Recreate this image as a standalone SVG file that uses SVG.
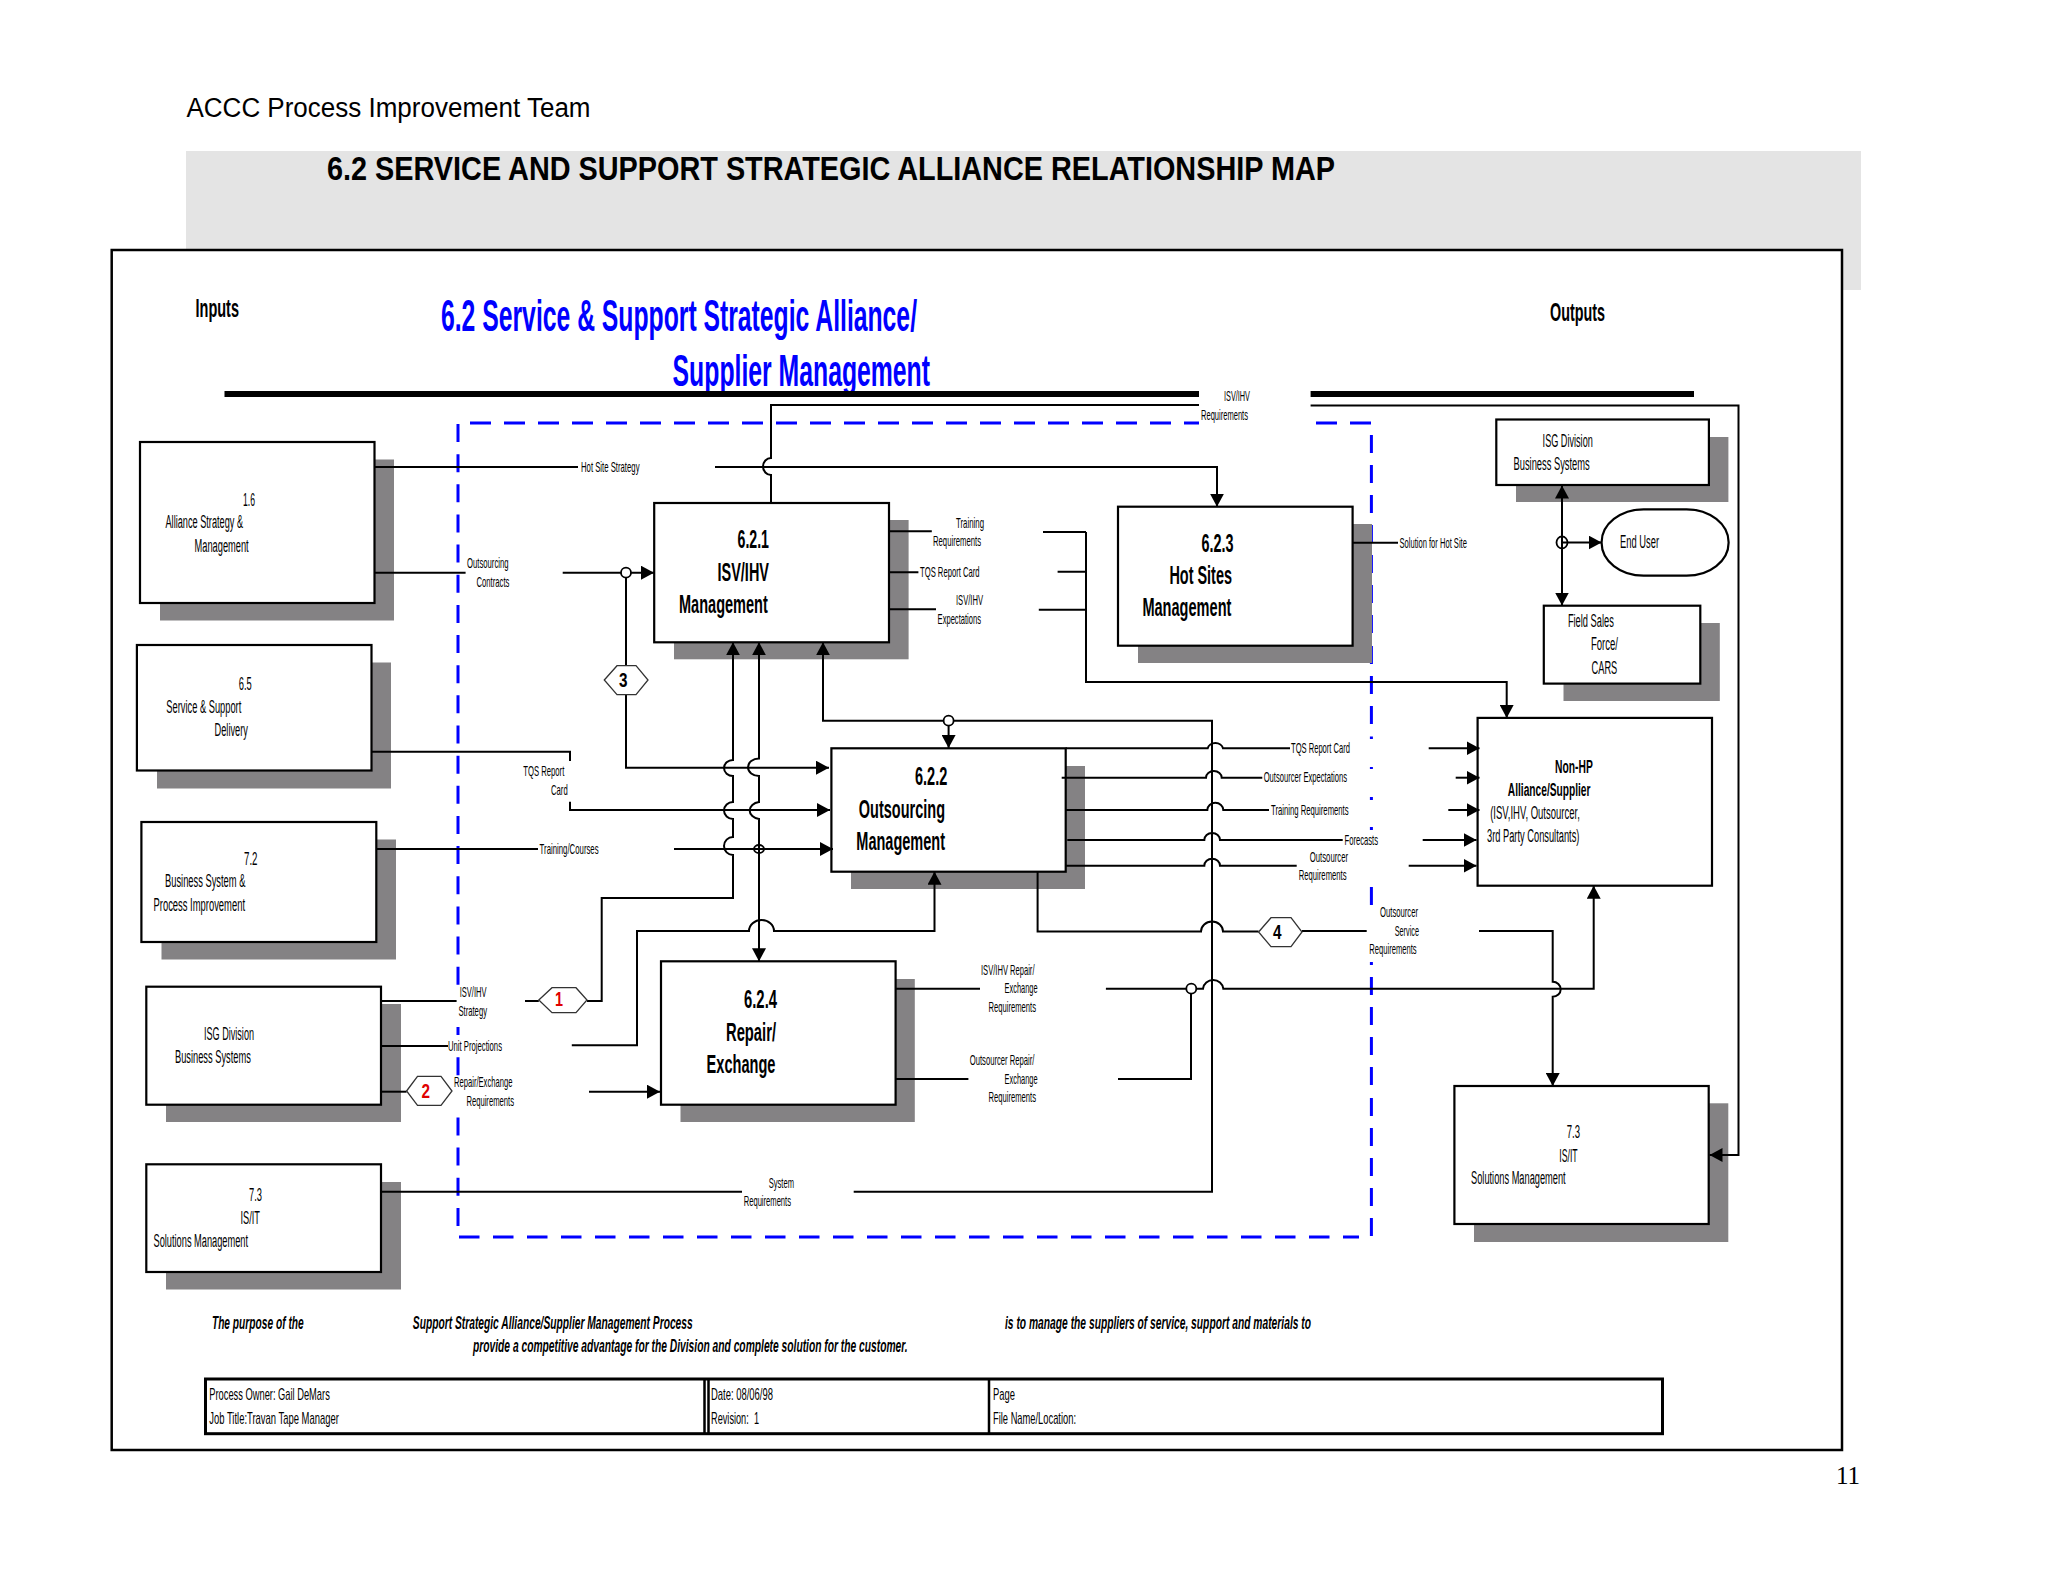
<svg xmlns="http://www.w3.org/2000/svg" width="2048" height="1582" viewBox="0 0 2048 1582">
<style>
text{font-family:"Liberation Sans",Arial,sans-serif;fill:#000}
.l{font-size:15px}
.n{font-size:18px}
.t{font-size:26px;font-weight:bold}
.b{font-weight:bold}
.f{font-size:17px}
.p{font-size:17.5px;font-weight:bold;font-style:italic}
.h{font-size:26px;font-weight:bold}
.blue{font-size:45px;font-weight:bold;fill:#0000ff}
.red{fill:#e00000}
.box{fill:#fff;stroke:#000;stroke-width:2.2}
.sh{fill:#848284}
.c{fill:none;stroke:#000;stroke-width:2}
.a{marker-end:url(#arrow)}
.j{fill:#fff;stroke:#000;stroke-width:1.8}
.jn{fill:none;stroke:#000;stroke-width:1.8}
.hex{fill:#fff;stroke:#333;stroke-width:1.3}
.d{fill:none;stroke:#0000ff;stroke-width:3}
.ko{fill:#fff}
</style>
<defs>
<marker id="arrow" viewBox="0 0 13 14" refX="13" refY="7" markerWidth="13" markerHeight="14" orient="auto" markerUnits="userSpaceOnUse"><path d="M0 0L13 7L0 14z" fill="#000"/></marker>
</defs>
<rect width="2048" height="1582" fill="#fff"/>
<text x="186.5" y="116.7" font-size="27" textLength="404" lengthAdjust="spacingAndGlyphs">ACCC Process Improvement Team</text>
<rect x="186" y="151" width="1675" height="139" fill="#e4e4e4"/>
<text x="327" y="180" font-size="33" font-weight="bold" textLength="1008" lengthAdjust="spacingAndGlyphs">6.2 SERVICE AND SUPPORT STRATEGIC ALLIANCE RELATIONSHIP MAP</text>
<rect x="111.7" y="250" width="1730.3" height="1200" fill="#fff" stroke="#000" stroke-width="2.5"/>
<text class="h" x="195.5" y="317" textLength="43.5" lengthAdjust="spacingAndGlyphs">Inputs</text>
<text class="h" x="1550" y="320.7" textLength="55" lengthAdjust="spacingAndGlyphs">Outputs</text>
<text class="blue" x="441" y="331" textLength="476" lengthAdjust="spacingAndGlyphs">6.2 Service &amp; Support Strategic Alliance/</text>
<text class="blue" x="672.6" y="386" textLength="257.4" lengthAdjust="spacingAndGlyphs">Supplier Management</text>
<rect x="224.5" y="391" width="974.5" height="6"/>
<rect x="1310.6" y="391" width="383.4" height="6"/>

<g id="boundary">
<path class="d" stroke-dasharray="18 12.15" d="M458 424V1236"/>
<rect class="ko" x="455" y="990" width="6" height="30"/>
<rect class="ko" x="455" y="1035" width="6" height="15"/>
<rect class="ko" x="455" y="1080" width="6" height="30"/>
<path class="d" stroke-dasharray="21 13" d="M470 423H1199"/>
<path class="d" stroke-dasharray="21 13" d="M1316 423H1371"/>
<path class="d" stroke-dasharray="20.5 13.5" d="M459 1237H1359"/>
<path class="d" d="M1371.4 435V453M1371.4 465V483M1371.4 495V513M1371.4 525V543M1371.4 555V573M1371.4 585V603M1371.4 615V633M1371.4 646V664M1371.4 676V694M1371.4 706V724M1371.4 736.5V739M1371.4 767V769M1371.4 797V800M1371.4 827V830M1371.4 887V905M1371.4 962V965M1371.4 977V995M1371.4 1007V1025M1371.4 1037V1055M1371.4 1067V1085M1371.4 1098V1116M1371.4 1128V1146M1371.4 1158V1176M1371.4 1188V1206M1371.4 1218V1236"/>
</g>

<g id="n16"><rect class="sh" x="160" y="459.5" width="234" height="161"/><rect class="box" x="140" y="442" width="234.5" height="161"/>
<text class="n" x="243" y="505.7" textLength="12" lengthAdjust="spacingAndGlyphs">1.6</text>
<text class="n" x="165.5" y="528" textLength="77.5" lengthAdjust="spacingAndGlyphs">Alliance Strategy &amp;</text>
<text class="n" x="194.5" y="551.7" textLength="54.2" lengthAdjust="spacingAndGlyphs">Management</text></g>
<g id="n65"><rect class="sh" x="157" y="662.5" width="234" height="126"/><rect class="box" x="136.9" y="645" width="234.6" height="125.5"/>
<text class="n" x="238.8" y="690" textLength="13" lengthAdjust="spacingAndGlyphs">6.5</text>
<text class="n" x="166.3" y="713" textLength="75" lengthAdjust="spacingAndGlyphs">Service &amp; Support</text>
<text class="n" x="214.5" y="736" textLength="33.4" lengthAdjust="spacingAndGlyphs">Delivery</text></g>
<g id="n72"><rect class="sh" x="161.5" y="839.5" width="234.5" height="120"/><rect class="box" x="141.4" y="822" width="234.9" height="120"/>
<text class="n" x="244" y="864.7" textLength="13.5" lengthAdjust="spacingAndGlyphs">7.2</text>
<text class="n" x="165" y="887.3" textLength="80.4" lengthAdjust="spacingAndGlyphs">Business System &amp;</text>
<text class="n" x="153.5" y="910.7" textLength="91.5" lengthAdjust="spacingAndGlyphs">Process Improvement</text></g>
<g id="isgIn"><rect class="sh" x="166" y="1004" width="235" height="118"/><rect class="box" x="146.3" y="986.7" width="234.7" height="118"/>
<text class="n" x="204" y="1040" textLength="50" lengthAdjust="spacingAndGlyphs">ISG Division</text>
<text class="n" x="175" y="1063" textLength="75.8" lengthAdjust="spacingAndGlyphs">Business Systems</text></g>
<g id="n73In"><rect class="sh" x="166" y="1182" width="235" height="107.5"/><rect class="box" x="146.3" y="1164.3" width="234.7" height="107.7"/>
<text class="n" x="249" y="1200.7" textLength="13" lengthAdjust="spacingAndGlyphs">7.3</text>
<text class="n" x="240.5" y="1224" textLength="19.5" lengthAdjust="spacingAndGlyphs">IS/IT</text>
<text class="n" x="153.5" y="1246.7" textLength="94.5" lengthAdjust="spacingAndGlyphs">Solutions Management</text></g>

<g id="n621"><rect class="sh" x="674" y="520" width="234.6" height="139.3"/><rect class="box" x="654.2" y="503" width="234.8" height="139.3"/>
<text class="t" x="737.5" y="548" textLength="31.5" lengthAdjust="spacingAndGlyphs">6.2.1</text>
<text class="t" x="717.5" y="580.7" textLength="51.5" lengthAdjust="spacingAndGlyphs">ISV/IHV</text>
<text class="t" x="679" y="612.7" textLength="88.8" lengthAdjust="spacingAndGlyphs">Management</text></g>
<g id="n623"><rect class="sh" x="1138" y="524" width="234" height="139"/><rect class="box" x="1118" y="506.7" width="234.6" height="139"/>
<text class="t" x="1201.6" y="551.7" textLength="32" lengthAdjust="spacingAndGlyphs">6.2.3</text>
<text class="t" x="1169.4" y="584" textLength="62.6" lengthAdjust="spacingAndGlyphs">Hot Sites</text>
<text class="t" x="1142.4" y="616" textLength="89" lengthAdjust="spacingAndGlyphs">Management</text></g>
<g id="n622"><rect class="sh" x="851" y="766" width="234" height="123"/><rect class="box" x="831.4" y="748.3" width="234.3" height="123.4"/>
<text class="t" x="915" y="785.3" textLength="32.3" lengthAdjust="spacingAndGlyphs">6.2.2</text>
<text class="t" x="858.8" y="817.7" textLength="86.2" lengthAdjust="spacingAndGlyphs">Outsourcing</text>
<text class="t" x="856.3" y="850" textLength="88.7" lengthAdjust="spacingAndGlyphs">Management</text></g>
<g id="n624"><rect class="sh" x="680.5" y="979" width="234.3" height="143"/><rect class="box" x="661" y="961.3" width="234.6" height="143.4"/>
<text class="t" x="744" y="1008.3" textLength="33" lengthAdjust="spacingAndGlyphs">6.2.4</text>
<text class="t" x="726" y="1041" textLength="50" lengthAdjust="spacingAndGlyphs">Repair/</text>
<text class="t" x="706.6" y="1073" textLength="68.8" lengthAdjust="spacingAndGlyphs">Exchange</text></g>

<g id="isgOut"><rect class="sh" x="1516" y="437" width="212.4" height="65"/><rect class="box" x="1496.3" y="419.5" width="212.6" height="65.5"/>
<text class="n" x="1542.6" y="446.8" textLength="50.2" lengthAdjust="spacingAndGlyphs">ISG Division</text>
<text class="n" x="1513.5" y="470" textLength="76.2" lengthAdjust="spacingAndGlyphs">Business Systems</text></g>
<g id="endUser"><rect class="box" x="1601.6" y="509.3" width="127" height="66.4" rx="42" ry="33"/>
<text class="n" x="1620" y="548" textLength="39" lengthAdjust="spacingAndGlyphs">End User</text></g>
<g id="fieldSales"><rect class="sh" x="1563.5" y="623" width="156.3" height="78"/><rect class="box" x="1543.8" y="605.7" width="156.5" height="77.9"/>
<text class="n" x="1567.9" y="627" textLength="45.9" lengthAdjust="spacingAndGlyphs">Field Sales</text>
<text class="n" x="1590.9" y="650" textLength="27.1" lengthAdjust="spacingAndGlyphs">Force/</text>
<text class="n" x="1591.6" y="673.6" textLength="25.7" lengthAdjust="spacingAndGlyphs">CARS</text></g>
<g id="nonHP"><rect class="box" x="1477.6" y="717.9" width="234.4" height="167.8"/>
<text class="n b" x="1555" y="772.5" textLength="37.8" lengthAdjust="spacingAndGlyphs">Non-HP</text>
<text class="n b" x="1507.8" y="795.7" textLength="82.7" lengthAdjust="spacingAndGlyphs">Alliance/Supplier</text>
<text class="n" x="1490.2" y="819" textLength="89.6" lengthAdjust="spacingAndGlyphs">(ISV,IHV, Outsourcer,</text>
<text class="n" x="1487" y="842" textLength="92.4" lengthAdjust="spacingAndGlyphs">3rd Party Consultants)</text></g>
<g id="n73Out"><rect class="sh" x="1474" y="1103.3" width="254.3" height="138.7"/><rect class="box" x="1454.4" y="1086" width="254.3" height="138"/>
<text class="n" x="1566.7" y="1138.3" textLength="13.3" lengthAdjust="spacingAndGlyphs">7.3</text>
<text class="n" x="1559.3" y="1161.7" textLength="18.4" lengthAdjust="spacingAndGlyphs">IS/IT</text>
<text class="n" x="1471" y="1184.3" textLength="94.7" lengthAdjust="spacingAndGlyphs">Solutions Management</text></g>

<g id="connectors">
<path class="c" d="M374.5 467H578"/>
<path class="c a" d="M715 467H1217V506.7"/>
<path class="c" d="M771 503V475A8 8.5 0 0 1 771 458V405H1199"/>
<path class="c a" d="M1310.6 405.5H1738.5V1155H1709.5"/>
<path class="c" d="M374.5 572.7H465.6"/>
<path class="c a" d="M562.7 572.7H654"/>
<path class="c a" d="M626 572.7V767.7H829"/>
<path class="c" d="M371.5 751.7H570V761"/>
<path class="c a" d="M570 801.7V810H830"/>
<path class="c" d="M376.3 849H538"/>
<path class="c a" d="M674 849H833"/>
<path class="c a" d="M381 1001H456.6M525 1001H538.8M587 1001H601.7V898H733V855A9 9 0 0 1 733 837V819A9 8.5 0 0 1 733 802V776A9 8 0 0 1 733 760V642.3"/>
<path class="c a" d="M759 849V819A11 8.6 0 0 1 759 802V776A11 8.8 0 0 1 759 758.4V642.3"/>
<path class="c a" d="M759 849V961.3"/>
<path class="c" d="M381 1046H448"/>
<path class="c a" d="M571.8 1045.3H637V931H749A12.5 11 0 0 1 774 931H934.5V871.7"/>
<path class="c" d="M381 1091.7H406.6"/>
<path class="c a" d="M589 1091.7H660"/>
<path class="c" d="M381 1191.7H742"/>
<path class="c a" d="M853.7 1191.7H1212V720.7H823V642.3"/>
<path class="c a" d="M948.6 720.7V748"/>
<path class="c" d="M889 531.3H931.8M889 572.3H918.4M889 609.3H936"/>
<path class="c" d="M1043 532H1086M1057.6 571.7H1086M1038.8 609.7H1086"/>
<path class="c a" d="M1086 532V682H1506.7V717.9"/>
<path class="c" d="M1352.6 542.7H1398"/>
<path class="c a" d="M1562 543V485.5"/>
<path class="c a" d="M1562 543V605.5"/>
<path class="c a" d="M1562 542.5H1601.6"/>
<path class="c" d="M1065.7 748.3H1207.7A7.8 6.6 0 0 1 1223 748.3H1290"/>
<path class="c" d="M1061.7 777.7H1206A7.8 6.6 0 0 1 1221.7 777.7H1262.3"/>
<path class="c" d="M1066 810H1207.3A8 7.2 0 0 1 1223.3 810H1269"/>
<path class="c" d="M1067.3 840H1204.3A7.8 7 0 0 1 1220 840H1342.7"/>
<path class="c" d="M1065 865.7H1204.3A7.8 7 0 0 1 1220 865.7H1296.7"/>
<path class="c a" d="M1428.7 748.3H1479.5"/>
<path class="c a" d="M1455.7 777.7H1479.5"/>
<path class="c a" d="M1448.3 810H1479.5"/>
<path class="c a" d="M1422.7 840H1476.5"/>
<path class="c a" d="M1408.7 865.7H1476.5"/>
<path class="c" d="M1037.6 871.7V931.5H1201A11 10 0 0 1 1223 931.5H1258.6M1302 931H1366.7"/>
<path class="c a" d="M1479 931H1552.7V981.7A8 7.5 0 0 1 1552.7 996.7V1086"/>
<path class="c" d="M895.6 988.7H980"/>
<path class="c a" d="M1105.9 988.7H1203A10.2 9.7 0 0 1 1223.3 988.7H1593.7V885.7"/>
<path class="c" d="M895.6 1079H968.4"/>
<path class="c" d="M1118 1079H1191V988.7"/>
<circle class="j" cx="626" cy="572.7" r="5"/>
<circle class="j" cx="948.6" cy="720.7" r="5"/>
<ellipse class="jn" cx="759" cy="849" rx="5" ry="4"/>
<circle class="j" cx="1191.3" cy="988.7" r="5"/>
<ellipse class="jn" cx="1562" cy="542.5" rx="5.5" ry="6"/>
</g>

<g id="hex3"><polygon class="hex" points="604.3,680 617,665.7 636,665.7 648,680 636,694.7 617,694.7"/><text x="619" y="687" font-size="21" font-weight="bold" textLength="8.5" lengthAdjust="spacingAndGlyphs">3</text></g>
<g id="hex1"><polygon class="hex" points="538.8,1000 552,987.7 576,987.7 587,1000 576,1012.7 552,1012.7"/><text class="red" x="555" y="1006" font-size="20" font-weight="bold" textLength="8" lengthAdjust="spacingAndGlyphs">1</text></g>
<g id="hex2"><polygon class="hex" points="406.6,1091 417.5,1076.3 441,1076.3 452,1091 441,1105.3 417.5,1105.3"/><text class="red" x="421.5" y="1097.5" font-size="21" font-weight="bold" textLength="8.5" lengthAdjust="spacingAndGlyphs">2</text></g>
<g id="hex4"><polygon class="hex" points="1258.6,932 1271,917.7 1291,917.7 1302,932 1291,946.7 1271,946.7"/><text x="1273" y="938.5" font-size="21" font-weight="bold" textLength="8.5" lengthAdjust="spacingAndGlyphs">4</text></g>

<g id="labels">
<text class="l" x="581" y="471.7" textLength="58.5" lengthAdjust="spacingAndGlyphs">Hot Site Strategy</text>
<text class="l" x="1224" y="400.7" textLength="26" lengthAdjust="spacingAndGlyphs">ISV/IHV</text>
<text class="l" x="1201" y="420" textLength="47" lengthAdjust="spacingAndGlyphs">Requirements</text>
<text class="l" x="467" y="568" textLength="41.5" lengthAdjust="spacingAndGlyphs">Outsourcing</text>
<text class="l" x="476.4" y="586.7" textLength="33" lengthAdjust="spacingAndGlyphs">Contracts</text>
<text class="l" x="956" y="527.7" textLength="28" lengthAdjust="spacingAndGlyphs">Training</text>
<text class="l" x="933" y="545.7" textLength="48" lengthAdjust="spacingAndGlyphs">Requirements</text>
<text class="l" x="920" y="576.7" textLength="59.6" lengthAdjust="spacingAndGlyphs">TQS Report Card</text>
<text class="l" x="956" y="605" textLength="27" lengthAdjust="spacingAndGlyphs">ISV/IHV</text>
<text class="l" x="937.6" y="624" textLength="43.4" lengthAdjust="spacingAndGlyphs">Expectations</text>
<text class="l" x="1399.5" y="547.5" textLength="67.4" lengthAdjust="spacingAndGlyphs">Solution for Hot Site</text>
<text class="l" x="1291" y="753" textLength="59" lengthAdjust="spacingAndGlyphs">TQS Report Card</text>
<text class="l" x="1263.7" y="782" textLength="83.3" lengthAdjust="spacingAndGlyphs">Outsourcer Expectations</text>
<text class="l" x="1271" y="815" textLength="77.6" lengthAdjust="spacingAndGlyphs">Training Requirements</text>
<text class="l" x="1344.5" y="844.7" textLength="33.5" lengthAdjust="spacingAndGlyphs">Forecasts</text>
<text class="l" x="1309.8" y="861.7" textLength="38.2" lengthAdjust="spacingAndGlyphs">Outsourcer</text>
<text class="l" x="1298.8" y="880" textLength="47.7" lengthAdjust="spacingAndGlyphs">Requirements</text>
<text class="l" x="1380" y="917" textLength="38" lengthAdjust="spacingAndGlyphs">Outsourcer</text>
<text class="l" x="1394.7" y="935.7" textLength="24.3" lengthAdjust="spacingAndGlyphs">Service</text>
<text class="l" x="1369.3" y="954" textLength="47.3" lengthAdjust="spacingAndGlyphs">Requirements</text>
<text class="l" x="981" y="975" textLength="53.5" lengthAdjust="spacingAndGlyphs">ISV/IHV Repair/</text>
<text class="l" x="1004.6" y="993" textLength="33" lengthAdjust="spacingAndGlyphs">Exchange</text>
<text class="l" x="988.5" y="1012" textLength="47.5" lengthAdjust="spacingAndGlyphs">Requirements</text>
<text class="l" x="969.7" y="1065" textLength="64.8" lengthAdjust="spacingAndGlyphs">Outsourcer Repair/</text>
<text class="l" x="1004.6" y="1083.7" textLength="33" lengthAdjust="spacingAndGlyphs">Exchange</text>
<text class="l" x="988.5" y="1102" textLength="47.5" lengthAdjust="spacingAndGlyphs">Requirements</text>
<text class="l" x="768.7" y="1187.7" textLength="25.3" lengthAdjust="spacingAndGlyphs">System</text>
<text class="l" x="743.7" y="1206" textLength="47.3" lengthAdjust="spacingAndGlyphs">Requirements</text>
<text class="l" x="539.6" y="854" textLength="59" lengthAdjust="spacingAndGlyphs">Training/Courses</text>
<text class="l" x="459.7" y="996.7" textLength="26.8" lengthAdjust="spacingAndGlyphs">ISV/IHV</text>
<text class="l" x="458.4" y="1016" textLength="28.6" lengthAdjust="spacingAndGlyphs">Strategy</text>
<text class="l" x="448" y="1050.7" textLength="54" lengthAdjust="spacingAndGlyphs">Unit Projections</text>
<text class="l" x="454" y="1087" textLength="58.4" lengthAdjust="spacingAndGlyphs">Repair/Exchange</text>
<text class="l" x="466.4" y="1105.7" textLength="47.6" lengthAdjust="spacingAndGlyphs">Requirements</text>
<text class="l" x="523.3" y="775.7" textLength="41" lengthAdjust="spacingAndGlyphs">TQS Report</text>
<text class="l" x="551" y="795" textLength="16.7" lengthAdjust="spacingAndGlyphs">Card</text>
</g>

<g id="purpose">
<text class="p" x="211.9" y="1329" textLength="91.8" lengthAdjust="spacingAndGlyphs">The purpose of the</text>
<text class="p" x="412.8" y="1329" textLength="279.9" lengthAdjust="spacingAndGlyphs">Support Strategic Alliance/Supplier Management Process</text>
<text class="p" x="1005" y="1329" textLength="306" lengthAdjust="spacingAndGlyphs">is to manage the suppliers of service, support and materials to</text>
<text class="p" x="473" y="1352" textLength="434.6" lengthAdjust="spacingAndGlyphs">provide a competitive advantage for the Division and complete solution for the customer.</text>
</g>
<g id="footer">
<rect x="205.5" y="1379" width="1457" height="54.7" fill="none" stroke="#000" stroke-width="3"/>
<path d="M704.5 1379V1434M708.5 1379V1434M989 1379V1434" fill="none" stroke="#000" stroke-width="2.5"/>
<text class="f" x="209.3" y="1400" textLength="120.5" lengthAdjust="spacingAndGlyphs">Process Owner: Gail DeMars</text>
<text class="f" x="209.3" y="1423.5" textLength="129.5" lengthAdjust="spacingAndGlyphs">Job Title:Travan Tape Manager</text>
<text class="f" x="711" y="1400" textLength="62" lengthAdjust="spacingAndGlyphs">Date: 08/06/98</text>
<text class="f" x="711" y="1423.5" textLength="48" lengthAdjust="spacingAndGlyphs" xml:space="preserve">Revision:  1</text>
<text class="f" x="993" y="1400" textLength="22" lengthAdjust="spacingAndGlyphs">Page</text>
<text class="f" x="993" y="1423.5" textLength="83" lengthAdjust="spacingAndGlyphs">File Name/Location:</text>
</g>
<text x="1836" y="1484" font-size="25" style="font-family:'Liberation Serif',serif">11</text>
</svg>
